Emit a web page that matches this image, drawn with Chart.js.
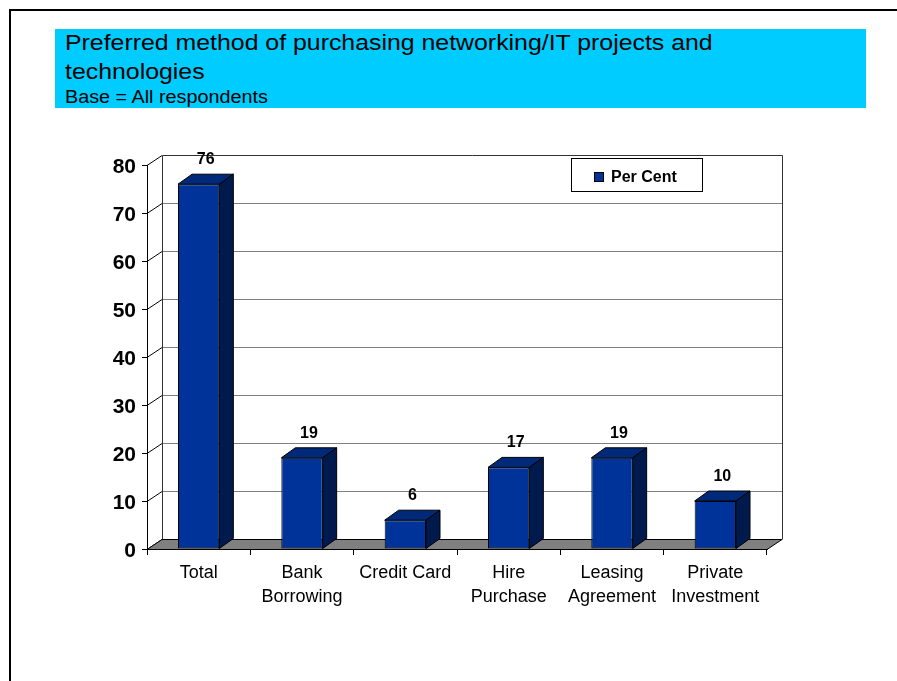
<!DOCTYPE html>
<html>
<head>
<meta charset="utf-8">
<title>Preferred method of purchasing</title>
<script src="https://cdn.jsdelivr.net/npm/chart.js"></script>
<style>
  body { margin: 0; background: #fff; overflow: hidden; font-family: Arial, "Liberation Sans", sans-serif; }
  #frame { position: absolute; left: 9px; top: 9px; right: 0; bottom: 0; border-top: 2px solid #000; border-left: 2px solid #000; }
  #titlebox { position: absolute; left: 55px; top: 29px; width: 811px; height: 79px; background: #00ccff; }
  .tline { position: absolute; left: 9.5px; white-space: nowrap; color: #000; transform: scaleX(1.13); transform-origin: 0 0; }
  .big { font-size: 22px; line-height: 22px; }
  .small { font-size: 17.5px; line-height: 17.5px; }
  #myChart { position: absolute; left: 0; top: 0; }
</style>
</head>
<body>
<div id="frame"></div>
<div id="titlebox">
  <div class="tline big" style="top:3.4px">Preferred method of purchasing networking/IT projects and</div>
  <div class="tline big" style="top:32.4px">technologies</div>
  <div class="tline small" style="top:60.2px">Base = All respondents</div>
</div>
<canvas id="myChart" width="897" height="681"></canvas>

<script>
// Start Data
const categories = ['Total', ['Bank', 'Borrowing'], 'Credit Card', ['Hire', 'Purchase'], ['Leasing', 'Agreement'], ['Private', 'Investment']];
const seriesName = 'Per Cent';
const perCent = [76, 19, 6, 17, 19, 10];
const yTicks = [0, 10, 20, 30, 40, 50, 60, 70, 80];
// End Data

// Start 3D look (walls, floor, bar sides, value labels, legend)
const threeD = {
  id: 'threeD',
  beforeDatasetsDraw(chart) {
    const c = chart.ctx, a = chart.chartArea, y = chart.scales.y;
    const dx = 15, dy = -10;
    c.save();
    c.lineWidth = 1;

    // back wall
    c.fillStyle = '#fff';
    c.fillRect(a.left + dx, a.top + dy, a.right - a.left, a.bottom - a.top);

    // gridlines on the back wall + diagonals on the left wall
    yTicks.forEach(v => {
      const py = Math.round(y.getPixelForValue(v)) + 0.5;
      if (v > 0 && v < 80) {
        c.strokeStyle = '#808080';
        c.beginPath(); c.moveTo(a.left + dx, py + dy); c.lineTo(a.right + dx, py + dy); c.stroke();
      }
      c.strokeStyle = '#000';
      c.beginPath(); c.moveTo(a.left, py); c.lineTo(a.left + dx, py + dy); c.stroke();
    });

    // wall edges
    const top = Math.round(a.top) + dy + 0.5, bot = Math.round(a.bottom) + dy + 0.5;
    const l = Math.round(a.left) + dx + 0.5, r = Math.round(a.right) + dx + 0.5;
    c.strokeStyle = '#333';
    c.beginPath();
    c.moveTo(l, bot); c.lineTo(l, top); c.lineTo(r, top); c.lineTo(r, bot);
    c.stroke();

    // floor
    const fb = Math.round(a.bottom) + 0.5;
    c.fillStyle = '#808080';
    c.strokeStyle = '#000';
    c.beginPath();
    c.moveTo(a.left, fb); c.lineTo(a.right, fb);
    c.lineTo(a.right + dx, fb + dy); c.lineTo(a.left + dx, fb + dy);
    c.closePath(); c.fill(); c.stroke();
    c.restore();
  },
  afterDatasetsDraw(chart) {
    const c = chart.ctx;
    const meta = chart.getDatasetMeta(0);
    const dx = 14, dy = -10;
    c.save();
    c.lineWidth = 1;
    c.strokeStyle = '#000';
    meta.data.forEach((bar, i) => {
      const left = bar.x - bar.width / 2, right = bar.x + bar.width / 2;
      // top face
      c.fillStyle = '#00297a';
      c.beginPath();
      c.moveTo(left, bar.y); c.lineTo(right, bar.y);
      c.lineTo(right + dx, bar.y + dy); c.lineTo(left + dx, bar.y + dy);
      c.closePath(); c.fill(); c.stroke();
      // side face
      c.fillStyle = '#001a4d';
      c.beginPath();
      c.moveTo(right, bar.y); c.lineTo(right + dx, bar.y + dy);
      c.lineTo(right + dx, bar.base + dy); c.lineTo(right, bar.base);
      c.closePath(); c.fill(); c.stroke();
      // value label
      c.fillStyle = '#000';
      c.font = 'bold 16px Arial';
      c.textAlign = 'center';
      c.textBaseline = 'alphabetic';
      c.fillText(perCent[i], bar.x + dx / 2, bar.y + dy - 10);
    });
    c.restore();
  },
  afterDraw(chart) {
    const c = chart.ctx;
    c.save();
    c.lineWidth = 1;
    c.strokeStyle = '#000';
    c.fillStyle = '#fff';
    c.fillRect(571.5, 158.5, 131, 33);
    c.strokeRect(571.5, 158.5, 131, 33);
    c.fillStyle = '#003399';
    c.fillRect(594.5, 172.5, 9, 9);
    c.strokeRect(594.5, 172.5, 9, 9);
    c.fillStyle = '#000';
    c.font = 'bold 16px Arial';
    c.textAlign = 'left';
    c.textBaseline = 'alphabetic';
    c.fillText(seriesName, 611, 182);
    c.restore();
  }
};
// End 3D look

// Start Bar Chart
const ctx = document.getElementById('myChart');

new Chart(ctx, {
  type: 'bar',
  data: {
    labels: categories,
    datasets: [{
      label: seriesName,
      data: perCent,
      backgroundColor: '#003399',
      borderColor: '#000',
      borderWidth: 1,
      borderSkipped: false,
      categoryPercentage: 1,
      barPercentage: 0.4
    }]
  },
  options: {
    responsive: false,
    animation: false,
    devicePixelRatio: 1,
    layout: { padding: { top: 165, right: 130, bottom: 0, left: 0 } },
    plugins: { legend: { display: false }, tooltip: { enabled: false } },
    scales: {
      x: {
        grid: { drawOnChartArea: false, tickLength: 6, color: '#000', offset: true },
        border: { color: '#000' },
        ticks: { color: '#000', font: { family: 'Arial', size: 18, lineHeight: 1.28 }, padding: 7, maxRotation: 0, autoSkip: false },
        afterFit: s => { s.height = 132; }
      },
      y: {
        min: 0,
        max: 80,
        afterBuildTicks: s => { s.ticks = yTicks.map(v => ({ value: v })); },
        ticks: { color: '#000', font: { family: 'Arial', size: 21, weight: 'bold' }, padding: 6, labelOffset: 2 },
        grid: { drawOnChartArea: false, tickLength: 5, color: '#000' },
        border: { color: '#000' },
        afterFit: s => { s.width = 147; }
      }
    }
  },
  plugins: [threeD]
});
// End Bar Chart
</script>
</body>
</html>
